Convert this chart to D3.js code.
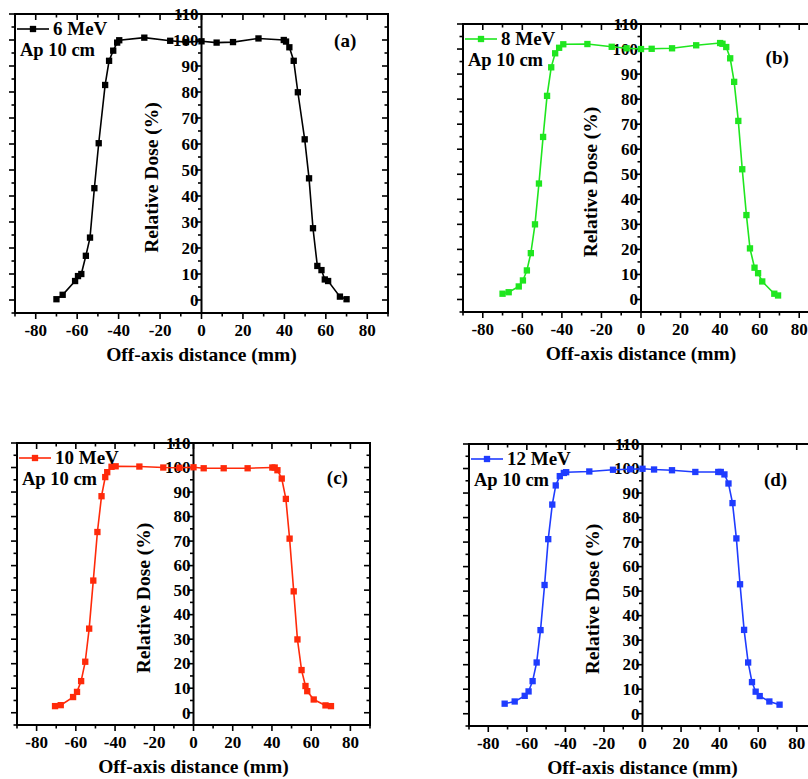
<!DOCTYPE html>
<html>
<head>
<meta charset="utf-8">
<script src="https://cdn.jsdelivr.net/npm/d3@7"></script>
<style>
  html, body { margin: 0; padding: 0; background: #fff; }
  svg text { font-family: "Liberation Serif", "Times New Roman", serif; font-weight: bold; fill: #000; }
</style>
</head>
<body>
<svg id="chart" width="808" height="779"></svg>
<script>
// ---------------- DATA ----------------
const xTicks = [-80, -60, -40, -20, 0, 20, 40, 60, 80];
const yTicks = [0, 10, 20, 30, 40, 50, 60, 70, 80, 90, 100, 110];
const xTitle = "Off-axis distance (mm)";
const yTitle = "Relative Dose (%)";
const apLabel = "Ap 10 cm";

const energies = ["6 MeV", "8 MeV", "10 MeV", "12 MeV"];
const panelTags = ["(a)", "(b)", "(c)", "(d)"];
const colors = ["#000000", "#1fe61f", "#ff2a0a", "#1f3cff"];

const x6 = [-70, -67, -61, -59.6, -58, -55.8, -53.8, -51.7, -49.6, -46.5, -44.6, -42.6, -40.7, -39.7, -27.6, -15.1, -7.5, 0, 7.3, 15.2, 27.5, 39.7, 40.8, 42.4, 44.5, 46.5, 49.8, 51.9, 53.8, 55.9, 57.9, 59.5, 61.1, 66.8, 70];
const y6 = [0.3, 2, 7.3, 9.2, 10, 17, 24, 43, 60.3, 82.7, 92, 95.9, 99, 99.9, 100.9, 99.7, 99.2, 99.5, 99, 99.2, 100.6, 100, 99.4, 97.2, 92, 79.9, 61.8, 46.8, 27.6, 13.1, 11.5, 7.9, 7.3, 1.3, 0.3];

const x8 = [-70, -66.9, -61.8, -59.7, -57.7, -55.7, -53.6, -51.6, -49.5, -47.5, -45.4, -43.4, -41.4, -39.3, -27.1, -14.8, -7.3, 0, 5.4, 15.7, 27.9, 40, 41.2, 43.1, 45.1, 47.1, 49.2, 51.2, 53.3, 55.1, 57.4, 59.2, 61.3, 67.4, 69.3];
const y8 = [2.3, 2.9, 5.2, 7.6, 11.6, 18.5, 30, 46.3, 64.9, 81.3, 92.7, 98.3, 100.5, 101.9, 102, 100.9, 100.3, 100, 100.1, 100.3, 101.5, 102.4, 102.1, 100.8, 96.3, 86.9, 71.3, 52, 33.7, 20.4, 12.7, 10.5, 7.2, 2.3, 1.6];

const x10 = [-70.6, -67.7, -61.4, -59.4, -57.3, -55.2, -53.2, -51.1, -49, -46.9, -45, -44, -41.8, -39.7, -27.6, -15.4, -7.2, 0, 5.2, 15.4, 27.6, 40.2, 41.4, 42.8, 45, 47.1, 49, 51.1, 53, 55.1, 57.1, 58, 61.3, 67.3, 70.1];
const y10 = [2.7, 3.1, 6.4, 8.5, 12.9, 20.8, 34.3, 53.9, 73.7, 88.3, 96.1, 98.1, 100.3, 100.5, 100.4, 100, 99.9, 100.1, 99.7, 99.7, 99.7, 100, 100, 98.9, 95.5, 87.2, 71, 49.5, 29.9, 17.4, 10.9, 8.8, 5.4, 3, 2.7];

const x12 = [-71.5, -66.3, -61.1, -59.1, -57, -54.9, -52.9, -50.8, -48.9, -46.8, -45, -42.9, -40.8, -39.6, -27.6, -15.3, -6.4, 0, 6, 15.3, 27.4, 39.3, 40.6, 42.5, 44.6, 46.7, 48.7, 50.6, 52.7, 54.8, 56.8, 58.7, 60.8, 65.8, 71.1];
const y12 = [4.1, 5, 7.3, 9.1, 13.3, 20.9, 34.1, 52.5, 71.2, 85.3, 93.1, 96.9, 98.2, 98.5, 98.8, 99.5, 99.7, 99.9, 99.6, 99.3, 98.6, 98.6, 98.6, 97.6, 93.9, 85.9, 71.5, 52.8, 34.2, 20.9, 12.9, 9, 7.2, 5, 3.7];

const xData = [x6, x8, x10, x12];
const yData = [y6, y8, y10, y12];

// ---------------- LAYOUT ----------------
const frames = [
  { l: 15,  r: 388, t: 14,  b: 313, tag: [64, 97.5] },
  { l: 463, r: 819, t: 24,  b: 312, tag: [63, 94] },
  { l: 17,  r: 370, t: 443, b: 725, tag: [68, 93.3] },
  { l: 469, r: 816, t: 444, b: 726, tag: [63, 92.8] }
];
const xDomain = [-90, 90];
const yDomain = [-5, 110];

const svg = d3.select("#chart");
svg.append("rect").attr("width", 808).attr("height", 779).attr("fill", "#fff");

const minorX = d3.range(-90, 91, 10);
const minorY = d3.range(-5, 111, 5);

frames.forEach((f, i) => {
  const x = d3.scaleLinear().domain(xDomain).range([f.l, f.r]);
  const y = d3.scaleLinear().domain(yDomain).range([f.b, f.t]);
  const g = svg.append("g");
  const color = colors[i];

  // frame
  g.append("rect").attr("x", f.l).attr("y", f.t).attr("width", f.r - f.l).attr("height", f.b - f.t)
    .attr("fill", "none").attr("stroke", "#000").attr("stroke-width", 2);

  const isMajorX = v => xTicks.includes(v);
  const isMajorY = v => v >= 0 && v % 10 === 0;

  // bottom ticks (outward) and top ticks (inward)
  minorX.forEach(v => {
    const L = isMajorX(v) ? 6 : 3.5;
    g.append("line").attr("x1", x(v)).attr("x2", x(v)).attr("y1", f.b).attr("y2", f.b + L)
      .attr("stroke", "#000").attr("stroke-width", 1.6);
    g.append("line").attr("x1", x(v)).attr("x2", x(v)).attr("y1", f.t).attr("y2", f.t + L)
      .attr("stroke", "#000").attr("stroke-width", 1.6);
  });
  // left (outward) and right (inward) frame ticks
  minorY.forEach(v => {
    const L = isMajorY(v) ? 6 : 3.5;
    g.append("line").attr("x1", f.l - L).attr("x2", f.l).attr("y1", y(v)).attr("y2", y(v))
      .attr("stroke", "#000").attr("stroke-width", 1.6);
    g.append("line").attr("x1", f.r - L).attr("x2", f.r).attr("y1", y(v)).attr("y2", y(v))
      .attr("stroke", "#000").attr("stroke-width", 1.6);
  });

  // bottom tick labels
  g.selectAll("text.xt").data(xTicks).enter().append("text")
    .attr("x", d => x(d)).attr("y", f.b + 23).attr("text-anchor", "middle")
    .attr("font-size", 17).text(d => d);

  // central y axis at x = 0
  const y0x = x(0);
  g.append("line").attr("x1", y0x).attr("x2", y0x).attr("y1", f.t).attr("y2", f.b)
    .attr("stroke", "#000").attr("stroke-width", 2);
  minorY.filter(v => v >= 0).forEach(v => {
    const L = isMajorY(v) ? 6 : 3.5;
    g.append("line").attr("x1", y0x - L).attr("x2", y0x).attr("y1", y(v)).attr("y2", y(v))
      .attr("stroke", "#000").attr("stroke-width", 1.6);
  });
  g.selectAll("text.yt").data(yTicks).enter().append("text")
    .attr("x", y0x - 3).attr("y", d => y(d)).attr("dy", "0.34em").attr("text-anchor", "end")
    .attr("font-size", 17).text(d => d);

  // axis titles
  g.append("text").attr("x", y0x).attr("y", f.b + 48).attr("text-anchor", "middle")
    .attr("font-size", 19.5).text(xTitle);
  g.append("text").attr("transform", `translate(${y0x - 44},${(f.t + f.b) / 2 + 14}) rotate(-90)`)
    .attr("text-anchor", "middle").attr("font-size", 19.5).text(yTitle);

  // data line + markers
  const pts = xData[i].map((v, k) => [v, yData[i][k]]);
  const line = d3.line().x(d => x(d[0])).y(d => y(d[1]));
  g.append("path").datum(pts).attr("d", line).attr("fill", "none")
    .attr("stroke", color).attr("stroke-width", 1.6);
  const sym = d3.symbol().type(d3.symbolSquare).size(40);
  g.selectAll("path.m").data(pts).enter().append("path")
    .attr("transform", d => `translate(${x(d[0])},${y(d[1])})`)
    .attr("d", sym).attr("fill", color);

  // legend
  const ly = f.t + 15;
  g.append("line").attr("x1", f.l + 2).attr("x2", f.l + 34).attr("y1", ly).attr("y2", ly)
    .attr("stroke", color).attr("stroke-width", 1.6);
  g.append("path").attr("transform", `translate(${f.l + 18},${ly})`).attr("d", sym).attr("fill", color);
  g.append("text").attr("x", f.l + 38).attr("y", f.t + 21).attr("font-size", 19).text(energies[i]);
  g.append("text").attr("x", f.l + 5).attr("y", f.t + 42).attr("font-size", 18.5).text(apLabel);

  // panel tag
  g.append("text").attr("x", x(f.tag[0])).attr("y", y(f.tag[1])).attr("font-size", 19).text(panelTags[i]);
});
</script>
</body>
</html>
